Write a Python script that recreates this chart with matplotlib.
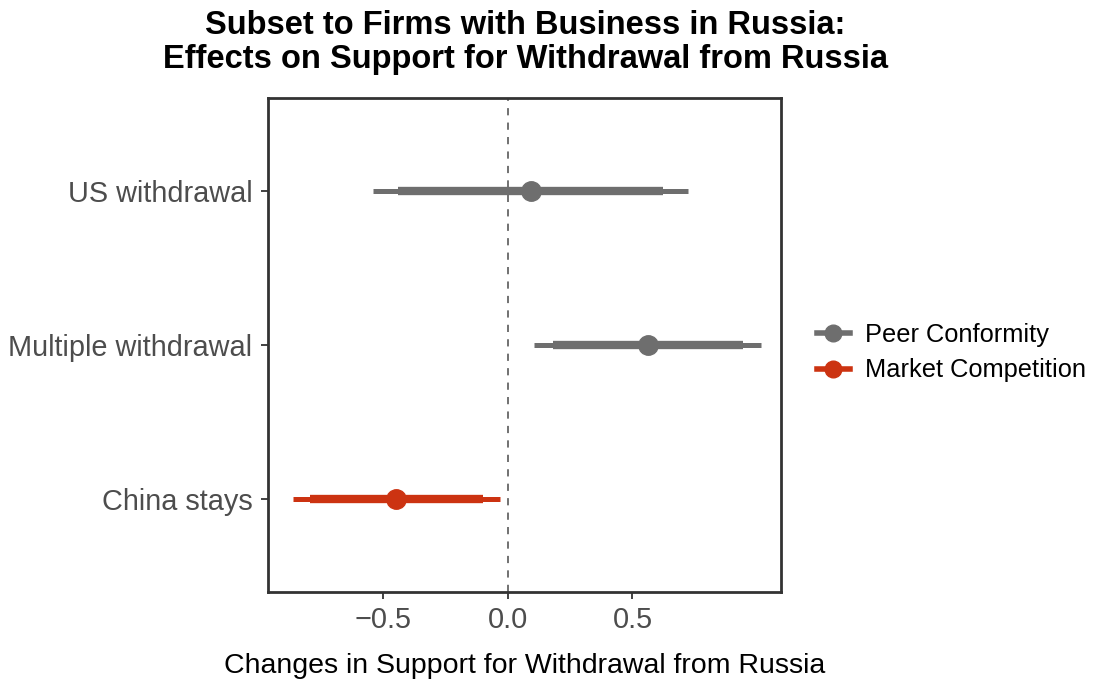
import matplotlib
matplotlib.use("Agg")
import matplotlib.pyplot as plt
from matplotlib.lines import Line2D

plt.rcParams['font.family'] = ['Liberation Sans', 'DejaVu Sans']

# Treatment effects with 90% (thick) and 95% (thin) intervals
categories = ["China stays", "Multiple withdrawal", "US withdrawal"]
groups = ["Market Competition", "Peer Conformity", "Peer Conformity"]
estimates = [-0.448, 0.561, 0.091]
ci90_low = [-0.795, 0.179, -0.442]
ci90_high = [-0.101, 0.943, 0.622]
ci95_low = [-0.863, 0.106, -0.543]
ci95_high = [-0.033, 1.016, 0.724]
xticks = [-0.5, 0.0, 0.5]
xtick_labels = ["\u22120.5", "0.0", "0.5"]

colors = {"Peer Conformity": "#6E6E6E", "Market Competition": "#CC3311"}

fig = plt.figure(figsize=(11.2, 6.81), dpi=100)
ax = fig.add_axes([0.239, 0.131, 0.458, 0.725])

ax.axvline(0, color="#666666", lw=1.3, ls=(0, (4, 4)), zorder=1)

for i, cat in enumerate(categories):
    y = i + 1
    c = colors[groups[i]]
    ax.hlines(y, ci95_low[i], ci95_high[i], color=c, lw=3.6, zorder=2)
    ax.hlines(y, ci90_low[i], ci90_high[i], color=c, lw=6.0, zorder=3)
    ax.plot(estimates[i], y, "o", color=c, ms=14, zorder=4)

ax.set_xlim(-0.965, 1.095)
ax.set_ylim(0.4, 3.6)
ax.set_yticks([1, 2, 3])
ax.set_yticklabels(categories)
ax.set_xticks(xticks)
ax.set_xticklabels(xtick_labels)
ax.tick_params(axis="both", colors="#333333", width=1.3, length=5,
               labelsize=20.8, labelcolor="#4D4D4D")
ax.tick_params(axis="y", pad=6)
ax.tick_params(axis="x", pad=5)
for s in ax.spines.values():
    s.set_linewidth(2.0)
    s.set_color("#333333")

ax.set_xlabel("Changes in Support for Withdrawal from Russia", fontsize=20.5,
              color="black", labelpad=14)
fig.suptitle("Subset to Firms with Business in Russia:\nEffects on Support for Withdrawal from Russia",
             fontsize=23.5, fontweight="bold", x=0.469, y=0.985, linespacing=1.12)

handles = [
    Line2D([0], [0], color=colors["Peer Conformity"], lw=4, marker="o", ms=12),
    Line2D([0], [0], color=colors["Market Competition"], lw=4, marker="o", ms=12),
]
fig.legend(handles, ["Peer Conformity", "Market Competition"], loc="center left",
           bbox_to_anchor=(0.709, 0.482), frameon=False, fontsize=18.3,
           handlelength=1.3, handletextpad=0.6, labelspacing=0.45)

fig.savefig("out.png", dpi=100)
